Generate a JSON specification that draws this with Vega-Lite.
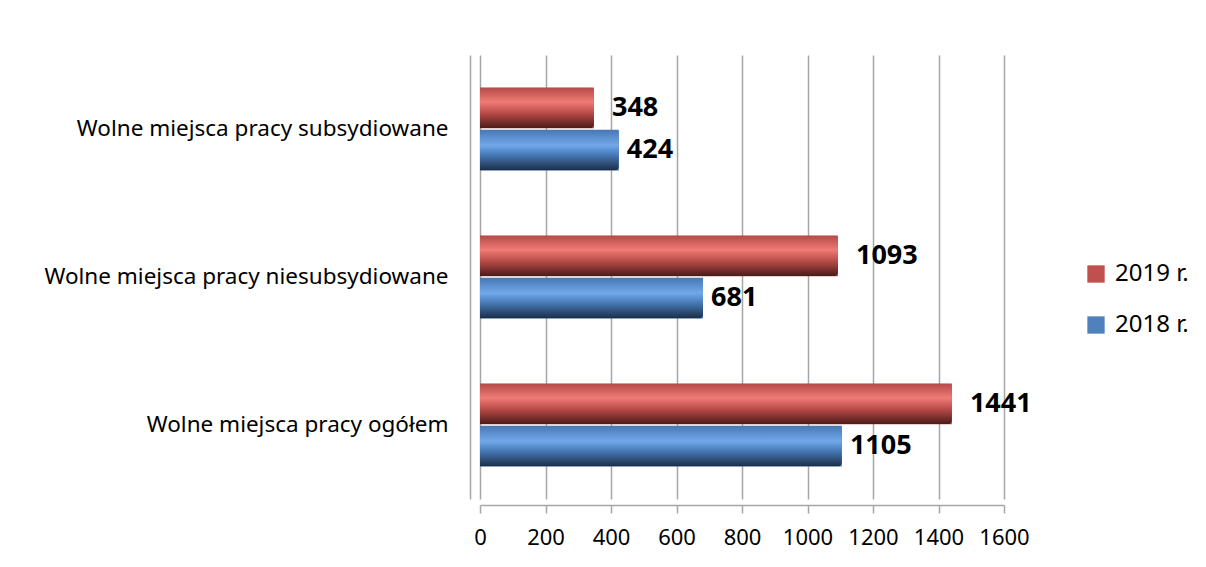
{
"$schema":"https://vega.github.io/schema/vega-lite/v6.json",
"width":524,"height":444,
"autosize":{"type":"none"},
"padding":{"left":480,"top":55,"right":202,"bottom":68},
"background":"white",
"config":{"view":{"stroke":null},"font":"Noto Sans"},
"data":{"values":[
{"category":"Wolne miejsca pracy subsydiowane","year":"2019 r.","value":348},
{"category":"Wolne miejsca pracy subsydiowane","year":"2018 r.","value":424},
{"category":"Wolne miejsca pracy niesubsydiowane","year":"2019 r.","value":1093},
{"category":"Wolne miejsca pracy niesubsydiowane","year":"2018 r.","value":681},
{"category":"Wolne miejsca pracy ogółem","year":"2019 r.","value":1441},
{"category":"Wolne miejsca pracy ogółem","year":"2018 r.","value":1105}
]},
"encoding":{
 "y":{"field":"category","type":"nominal","sort":["Wolne miejsca pracy subsydiowane","Wolne miejsca pracy niesubsydiowane","Wolne miejsca pracy ogółem"],
   "scale":{"paddingInner":0.44,"paddingOuter":0.22},
   "axis":{"title":null,"ticks":false,"domain":true,"domainColor":"#a6a6a6","domainWidth":1.5,"offset":10,"labelFontSize":22.5,"labelPadding":22,"labelColor":"black","labelLimit":600}},
 "yOffset":{"field":"year","type":"nominal","sort":["2019 r.","2018 r."],"scale":{"paddingInner":0.03}},
 "x":{"field":"value","type":"quantitative","scale":{"domain":[0,1600]},
   "axis":{"title":null,"values":[0,200,400,600,800,1000,1200,1400,1600],"format":"d","grid":true,"gridColor":"#a6a6a6","gridWidth":1.5,"domainColor":"#a6a6a6","domainWidth":1.5,"offset":6,"tickColor":"#a6a6a6","tickWidth":1.5,"tickSize":8,"labelFontSize":22,"labelPadding":14,"labelColor":"black","labelFlush":false}}
},
"layer":[
 {"mark":{"type":"bar"},
  "encoding":{"color":{"field":"year","type":"nominal","scale":{"domain":["2019 r.","2018 r."],"range":["#C0504D","#4F81BD"]},
    "legend":{"title":null,"orient":"none","legendX":604,"legendY":207,"symbolType":"square","symbolSize":300,"symbolStrokeWidth":0,"labelFontSize":24,"labelColor":"black","rowPadding":27,"labelOffset":7}}}},
 {"transform":[{"filter":"datum.year === '2019 r.'"}],
  "mark":{"type":"bar","cornerRadiusEnd":4,"fill":{"gradient":"linear","x1":0,"y1":0,"x2":0,"y2":1,"stops":[{"offset":0,"color":"#b44a47"},{"offset":0.35,"color":"#f07a76"},{"offset":0.62,"color":"#b94c49"},{"offset":1,"color":"#4a1917"}]}}},
 {"transform":[{"filter":"datum.year === '2018 r.'"}],
  "mark":{"type":"bar","cornerRadiusEnd":4,"fill":{"gradient":"linear","x1":0,"y1":0,"x2":0,"y2":1,"stops":[{"offset":0,"color":"#4677b3"},{"offset":0.38,"color":"#72a8ea"},{"offset":0.62,"color":"#4679b6"},{"offset":1,"color":"#1c2d45"}]}}},
 {"transform":[{"filter":"datum.year === '2019 r.'"}],
  "mark":{"type":"text","align":"left","baseline":"middle","dx":18,"fontSize":27,"fontWeight":"bold","color":"black"},
  "encoding":{"text":{"field":"value","type":"quantitative"}}},
 {"transform":[{"filter":"datum.year === '2018 r.'"}],
  "mark":{"type":"text","align":"left","baseline":"middle","dx":8,"fontSize":27,"fontWeight":"bold","color":"black"},
  "encoding":{"text":{"field":"value","type":"quantitative"}}}
]
}
